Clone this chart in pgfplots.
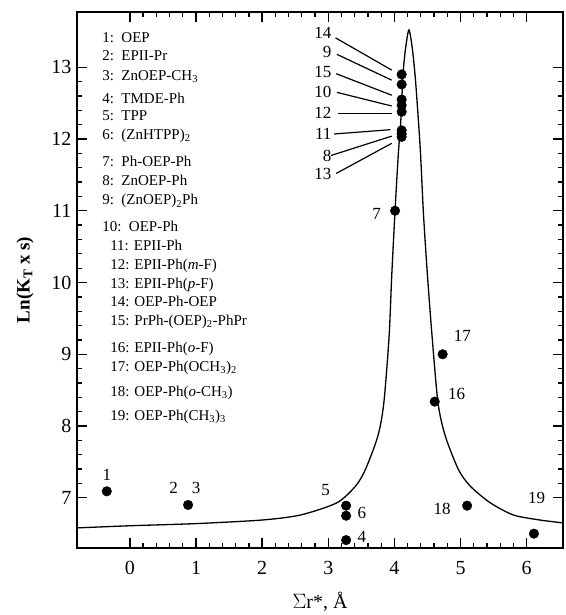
\documentclass[border=0pt]{standalone}
\usepackage{pgfplots}
\pgfplotsset{compat=1.18}
\usepackage{fontspec}
\setmainfont{Liberation Serif}
\usetikzlibrary{calc}

\newcommand{\sub}[1]{\textsubscript{#1}}
\tikzset{
  lab/.style={font=\fontsize{17}{19}\selectfont,inner sep=0pt},
  lead/.style={line width=1.2pt},
  lst/.style={font=\fontsize{15}{17}\selectfont,anchor=west,inner sep=0pt,text height=10pt,text depth=3pt},
}

\begin{document}
\begin{tikzpicture}
\begin{axis}[
  name=ax,
  width=486pt,height=536pt,scale only axis,
  xmin=-0.8,xmax=6.55,ymin=6.3,ymax=13.77,
  xtick={0,1,...,6},ytick={7,8,...,13},
  minor x tick num=4,minor y tick num=4,
  tick align=inside,tick pos=both,
  major tick length=10pt,minor tick length=5pt,
  every tick/.style={line width=1.3pt,black},
  axis line style={line width=1.5pt},
  /pgf/number format/assume math mode=true,
  ticklabel style={font=\fontsize{20}{22}\selectfont},
  xticklabel style={yshift=-10pt},
  yticklabel style={xshift=-2pt},
  xlabel={$\Sigma$r*, Å},
  xlabel style={font=\fontsize{20}{22}\selectfont,at={(axis description cs:0.5,0)},anchor=base,yshift=-60pt},
  ylabel={\textbf{Ln(K\sub{T} x s)}},
  ylabel style={font=\fontsize{19}{22}\selectfont,at={(axis description cs:-0.107,0.5)},anchor=center},
]
% fitted curve, read off the figure
\addplot[black,line width=1.3pt,smooth,tension=0.45] coordinates {
 (-0.8,6.58)(0,6.61)(1,6.64)(2,6.69)(2.58,6.76)(3.13,6.93)(3.41,7.16)
 (3.56,7.39)(3.75,7.86)(3.84,8.32)(3.92,9.25)(3.96,10.1)(4.01,11.0)
 (4.06,11.8)(4.10,12.3)(4.13,12.9)(4.17,13.27)(4.22,13.52)(4.27,13.27)
 (4.32,12.81)(4.39,11.88)(4.44,10.95)(4.50,10.1)(4.57,9.25)(4.66,8.32)
 (4.77,7.86)(4.97,7.39)(5.15,7.16)(5.45,6.93)(5.8,6.76)(6.2,6.69)(6.55,6.65)};
% data points 1-19
\addplot[only marks,mark=*,mark size=4.8pt,black] coordinates {
 (-0.35,7.09)(0.88,6.90)(3.27,6.41)(3.27,6.89)(3.27,6.75)(4.01,11.0)
 (4.11,12.07)(4.11,12.76)(4.11,12.47)(4.11,12.12)(4.11,12.38)(4.11,12.03)
 (4.11,12.90)(4.11,12.55)(4.61,8.34)(4.73,9.00)(5.10,6.89)(6.11,6.50)};

% point labels
\node[lab] at (axis cs:-0.35,7.32) {1};
\node[lab] at (axis cs:0.66,7.14) {2};
\node[lab] at (axis cs:1.00,7.14) {3};
\node[lab] at (axis cs:2.96,7.11) {5};
\node[lab] at (axis cs:3.51,6.79) {6};
\node[lab] at (axis cs:3.51,6.45) {4};
\node[lab] at (axis cs:4.72,6.84) {18};
\node[lab] at (axis cs:6.15,7.00) {19};
\node[lab] at (axis cs:4.94,8.45) {16};
\node[lab] at (axis cs:5.03,9.26) {17};
\node[lab] at (axis cs:3.73,10.96) {7};
\node[lab,anchor=east] at (axis cs:3.05,13.48) {14};
\node[lab,anchor=east] at (axis cs:3.05,13.22) {9};
\node[lab,anchor=east] at (axis cs:3.05,12.94) {15};
\node[lab,anchor=east] at (axis cs:3.05,12.66) {10};
\node[lab,anchor=east] at (axis cs:3.05,12.37) {12};
\node[lab,anchor=east] at (axis cs:3.05,12.07) {11};
\node[lab,anchor=east] at (axis cs:3.05,11.77) {8};
\node[lab,anchor=east] at (axis cs:3.05,11.51) {13};
% leader lines
\draw[lead] (axis cs:3.11,13.41) -- (axis cs:3.96,12.96);
\draw[lead] (axis cs:3.13,13.18) -- (axis cs:3.96,12.82);
\draw[lead] (axis cs:3.12,12.91) -- (axis cs:3.96,12.61);
\draw[lead] (axis cs:3.13,12.65) -- (axis cs:3.96,12.46);
\draw[lead] (axis cs:3.14,12.35) -- (axis cs:3.96,12.35);
\draw[lead] (axis cs:3.09,12.07) -- (axis cs:3.94,12.13);
\draw[lead] (axis cs:3.04,11.77) -- (axis cs:3.96,12.04);
\draw[lead] (axis cs:3.12,11.52) -- (axis cs:3.96,11.94);

% compound list
\node[lst] at (axis cs:-0.42,13.40) {1:\ \ OEP};
\node[lst] at (axis cs:-0.42,13.14) {2:\ \ EPII-Pr};
\node[lst] at (axis cs:-0.42,12.87) {3:\ \ ZnOEP-CH\sub{3}};
\node[lst] at (axis cs:-0.42,12.55) {4:\ \ TMDE-Ph};
\node[lst] at (axis cs:-0.42,12.31) {5:\ \ TPP};
\node[lst] at (axis cs:-0.42,12.04) {6:\ \ (ZnHTPP)\sub{2}};
\node[lst] at (axis cs:-0.42,11.67) {7:\ \ Ph-OEP-Ph};
\node[lst] at (axis cs:-0.42,11.40) {8:\ \ ZnOEP-Ph};
\node[lst] at (axis cs:-0.42,11.13) {9:\ \ (ZnOEP)\sub{2}Ph};
\node[lst] at (axis cs:-0.42,10.76) {10:\ \ OEP-Ph};
\node[lst] at (axis cs:-0.30,10.50) {11: EPII-Ph};
\node[lst] at (axis cs:-0.30,10.23) {12: EPII-Ph(\textit{m}-F)};
\node[lst] at (axis cs:-0.30,9.96) {13: EPII-Ph(\textit{p}-F)};
\node[lst] at (axis cs:-0.30,9.71) {14: OEP-Ph-OEP};
\node[lst] at (axis cs:-0.30,9.45) {15: PrPh-(OEP)\sub{2}-PhPr};
\node[lst] at (axis cs:-0.30,9.07) {16: EPII-Ph(\textit{o}-F)};
\node[lst] at (axis cs:-0.30,8.81) {17: OEP-Ph(OCH\sub{3})\sub{2}};
\node[lst] at (axis cs:-0.30,8.46) {18: OEP-Ph(\textit{o}-CH\sub{3})};
\node[lst] at (axis cs:-0.30,8.13) {19: OEP-Ph(CH\sub{3})\sub{3}};
\end{axis}
\pgfresetboundingbox
\path[use as bounding box] ($(ax.south west)+(-77pt,-67pt)$) rectangle ($(ax.north east)+(2pt,12pt)$);
\end{tikzpicture}
\end{document}
